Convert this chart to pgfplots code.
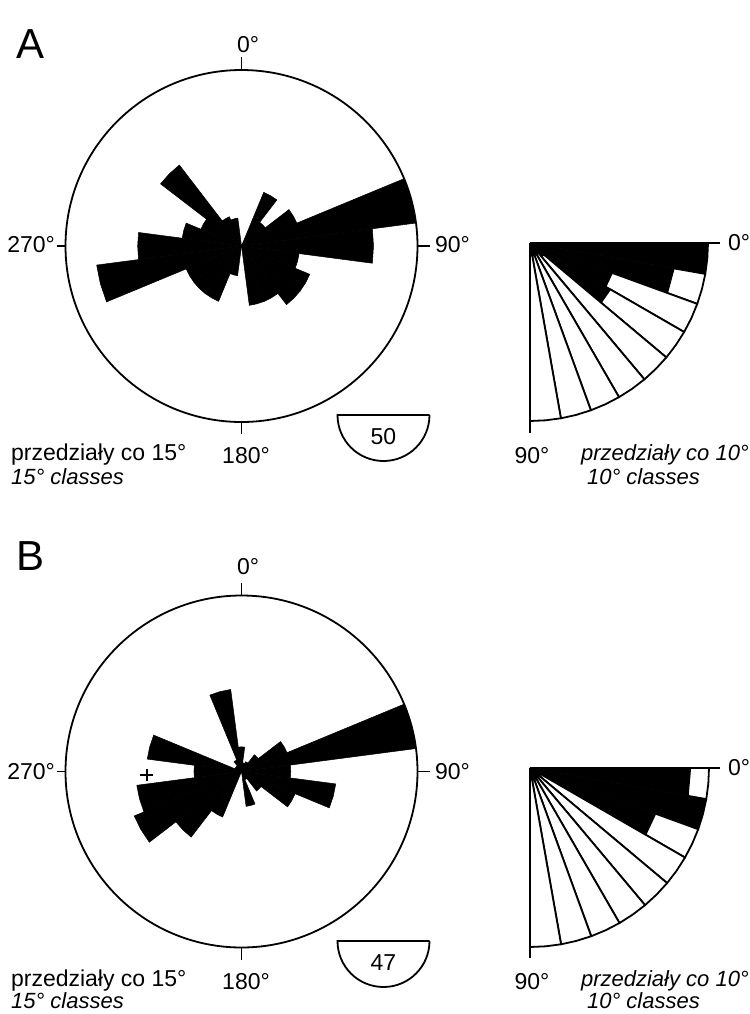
\documentclass[border=0pt]{standalone}
\usepackage{fontspec}
\setmainfont{Liberation Sans}
\usepackage{pgfplots}
\usepackage{pgfplotstable}
\pgfplotsset{compat=1.18}

% rose diagrams: class centre (azimuth, deg) and relative length (circle = 1)
\pgfplotstableread{
dir r
0 0
15 0
30 0.33
45 0.17
60 0.34
75 1.0
90 0.75
105 0.33
120 0.42
135 0.42
150 0.34
165 0.34
180 0
195 0.17
210 0.34
225 0.34
240 0.34
255 0.83
270 0.59
285 0.34
300 0.25
315 0.58
330 0.18
345 0.16
}\roseA
\pgfplotstableread{
dir r
0 0.14
15 0.05
30 0.06
45 0.12
60 0.28
75 1.0
90 0.28
105 0.54
120 0.33
135 0.14
150 0.05
165 0.20
180 0
195 0
210 0.28
225 0.47
240 0.66
255 0.60
270 0.27
285 0.54
300 0.04
315 0.04
330 0.07
345 0.47
}\roseB
% quarter diagrams: class start (deg) and relative length
\pgfplotstableread{
dir r
0 1.0
10 0.82
20 0.49
30 0.52
40 0.10
50 0.07
60 0.07
70 0.07
80 0.07
}\quarterA
\pgfplotstableread{
dir r
0 0.895
10 1.0
20 0.745
30 0.05
40 0.05
50 0.05
60 0.05
70 0.05
80 0.05
}\quarterB

\newcommand\rosepetal[5]{%
  \pgfplotstablegetelem{#2}{dir}\of#1\pgfmathsetmacro\pAng{\pgfplotsretval-7.5}%
  \pgfplotstablegetelem{#2}{r}\of#1\pgfmathsetmacro\pRad{#5*\pgfplotsretval}%
  \pgfmathsetmacro\pXa{#3+\pRad*sin(\pAng)}%
  \pgfmathsetmacro\pYa{#4-\pRad*cos(\pAng)}%
  \pgfmathsetmacro\pXm{#3+\pRad*sin(\pAng+7.5)}%
  \pgfmathsetmacro\pYm{#4-\pRad*cos(\pAng+7.5)}%
  \pgfmathsetmacro\pXb{#3+\pRad*sin(\pAng+15)}%
  \pgfmathsetmacro\pYb{#4-\pRad*cos(\pAng+15)}%
  \edef\doplot{\noexpand\addplot[draw=black,line width=0.25pt,fill=black,line join=miter]
    coordinates {(#3,#4) (\pXa,\pYa) (\pXm,\pYm) (\pXb,\pYb)} -- cycle;}%
  \doplot}

\newcommand\qsector[5]{%
  \pgfplotstablegetelem{#2}{dir}\of#1\pgfmathsetmacro\pAng{\pgfplotsretval}%
  \pgfplotstablegetelem{#2}{r}\of#1\pgfmathsetmacro\pRad{#5*\pgfplotsretval}%
  \pgfmathsetmacro\pXa{#3+\pRad*cos(\pAng)}%
  \pgfmathsetmacro\pYa{#4+\pRad*sin(\pAng)}%
  \pgfmathsetmacro\pXb{#3+\pRad*cos(\pAng+10)}%
  \pgfmathsetmacro\pYb{#4+\pRad*sin(\pAng+10)}%
  \pgfmathsetmacro\pXc{#3+#5*cos(\pAng)}%
  \pgfmathsetmacro\pYc{#4+#5*sin(\pAng)}%
  \pgfmathsetmacro\pXm{#3+#5*cos(\pAng+5)}%
  \pgfmathsetmacro\pYm{#4+#5*sin(\pAng+5)}%
  \pgfmathsetmacro\pXd{#3+#5*cos(\pAng+10)}%
  \pgfmathsetmacro\pYd{#4+#5*sin(\pAng+10)}%
  \edef\doplot{\noexpand\addplot[draw=black,line width=0.25pt,fill=black]
    coordinates {(#3,#4) (\pXa,\pYa) (\pXb,\pYb)} -- cycle;
    \noexpand\addplot[draw=black,line width=0.9pt,fill=white,line join=round]
    coordinates {(\pXa,\pYa) (\pXc,\pYc) (\pXm,\pYm) (\pXd,\pYd) (\pXb,\pYb)} -- cycle;}%
  \doplot}

\newcommand\lbl{\fontsize{11.5}{13}\selectfont}
\newcommand\lbli{\fontsize{11}{13}\selectfont\itshape}

\begin{document}
\begin{tikzpicture}
\begin{axis}[
  at={(0,0)}, anchor=south west,
  scale only axis, width=375pt, height=507pt,
  xmin=0, xmax=750, ymin=0, ymax=1014, y dir=reverse,
  hide axis, clip=false,
]
% ---------- A : rose ----------
\pgfplotsinvokeforeach{0,...,23}{\rosepetal{\roseA}{#1}{241.5}{246}{176}}
\draw[line width=0.9pt] (axis cs:241.5,246) circle[radius=176];
\draw[line width=0.9pt] (axis cs:241.5,70) -- (axis cs:241.5,57);
\draw[line width=0.9pt] (axis cs:241.5,422) -- (axis cs:241.5,434);
\draw[line width=0.9pt] (axis cs:65.5,246) -- (axis cs:57,246);
\draw[line width=0.9pt] (axis cs:417.5,246) -- (axis cs:430,246);
% ---------- A : quarter ----------
\pgfplotsinvokeforeach{0,...,8}{\qsector{\quarterA}{#1}{530}{243}{178}}
\draw[line width=0.9pt] (axis cs:530,243) -- (axis cs:720,243);
\draw[line width=0.9pt] (axis cs:530,243) -- (axis cs:530,433);
% ---------- B : rose ----------
\pgfplotsinvokeforeach{0,...,23}{\rosepetal{\roseB}{#1}{241.5}{771.5}{176}}
\draw[line width=0.9pt] (axis cs:241.5,771.5) circle[radius=176];
\draw[line width=0.9pt] (axis cs:241.5,595.5) -- (axis cs:241.5,583);
\draw[line width=0.9pt] (axis cs:241.5,947.5) -- (axis cs:241.5,960);
\draw[line width=0.9pt] (axis cs:65.5,771.5) -- (axis cs:57,771.5);
\draw[line width=0.9pt] (axis cs:417.5,771.5) -- (axis cs:430,771.5);
\addplot[only marks, mark=+, mark size=3.2pt, line width=1pt, black] coordinates {(146.5,775)};
% ---------- B : quarter ----------
\pgfplotsinvokeforeach{0,...,8}{\qsector{\quarterB}{#1}{530}{768}{179}}
\draw[line width=0.9pt] (axis cs:530,768) -- (axis cs:720,768);
\draw[line width=0.9pt] (axis cs:530,768) -- (axis cs:530,958);
% ---------- scale boxes ----------
\draw[line width=0.9pt] (axis cs:429.5,415) -- (axis cs:337.5,415) arc[start angle=180, end angle=360, radius=23pt];
\node[font=\lbl] at (axis cs:383.5,437) {50};
\draw[line width=0.9pt] (axis cs:429.5,941) -- (axis cs:337.5,941) arc[start angle=180, end angle=360, radius=23pt];
\node[font=\lbl] at (axis cs:383.5,963) {47};
% ---------- labels ----------
\node[font=\fontsize{21}{24}\selectfont] at (axis cs:31,44) {A};
\node[font=\fontsize{21}{24}\selectfont] at (axis cs:31,556) {B};
\node[font=\lbl] at (axis cs:248,45) {0°};
\node[font=\lbl, anchor=east] at (axis cs:62,245) {270°};
\node[font=\lbl, anchor=west] at (axis cs:428,245) {90°};
\node[font=\lbl] at (axis cs:246,456) {180°};
\node[font=\lbl, anchor=west] at (axis cs:4,455) {przedziały co 15°};
\node[font=\lbli, anchor=west] at (axis cs:4,477) {15° classes};
\node[font=\lbl, anchor=west] at (axis cs:721,243) {0°};
\node[font=\lbl] at (axis cs:532,456) {90°};
\node[font=\lbli, anchor=west] at (axis cs:574,455) {przedziały co 10°};
\node[font=\lbli, anchor=west] at (axis cs:580,477) {10° classes};
\node[font=\lbl] at (axis cs:248,567) {0°};
\node[font=\lbl, anchor=east] at (axis cs:62,772) {270°};
\node[font=\lbl, anchor=west] at (axis cs:428,772) {90°};
\node[font=\lbl] at (axis cs:246,982) {180°};
\node[font=\lbl, anchor=west] at (axis cs:4,981) {przedziały co 15°};
\node[font=\lbli, anchor=west] at (axis cs:4,1001) {15° classes};
\node[font=\lbl, anchor=west] at (axis cs:721,768) {0°};
\node[font=\lbl] at (axis cs:532,982) {90°};
\node[font=\lbli, anchor=west] at (axis cs:574,981) {przedziały co 10°};
\node[font=\lbli, anchor=west] at (axis cs:580,1001) {10° classes};
\end{axis}
\pgfresetboundingbox
\path[use as bounding box] (0,0) rectangle (375pt,507pt);
\end{tikzpicture}
\end{document}
